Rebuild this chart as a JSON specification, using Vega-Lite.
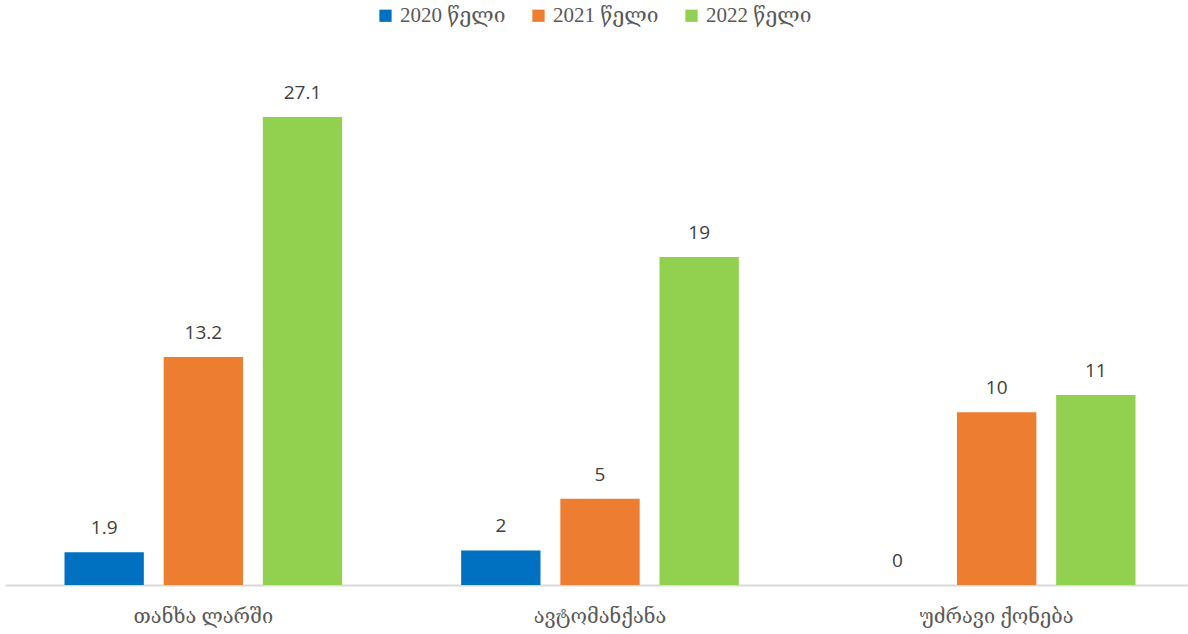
{
  "$schema": "https://vega.github.io/schema/vega-lite/v6.json",
  "width": 1190,
  "height": 518,
  "autosize": {"type": "none"},
  "padding": {"left": 5, "top": 67, "right": 0, "bottom": 49},
  "background": "white",
  "config": {"view": {"stroke": null}},
  "data": {
    "values": [
      {"cat": "თანხა ლარში", "year": "2020 წელი", "v": 1.9},
      {"cat": "თანხა ლარში", "year": "2021 წელი", "v": 13.2},
      {"cat": "თანხა ლარში", "year": "2022 წელი", "v": 27.1},
      {"cat": "ავტომანქანა", "year": "2020 წელი", "v": 2},
      {"cat": "ავტომანქანა", "year": "2021 წელი", "v": 5},
      {"cat": "ავტომანქანა", "year": "2022 წელი", "v": 19},
      {"cat": "უძრავი ქონება", "year": "2020 წელი", "v": 0},
      {"cat": "უძრავი ქონება", "year": "2021 წელი", "v": 10},
      {"cat": "უძრავი ქონება", "year": "2022 წელი", "v": 11}
    ]
  },
  "encoding": {
    "x": {
      "field": "cat", "type": "nominal", "sort": null, "title": null,
      "scale": {"paddingInner": 0, "paddingOuter": 0},
      "axis": {"labelAngle": 0, "labelFont": "Liberation Serif, DejaVu Serif, serif", "labelFontSize": 20, "labelColor": "#595959",
               "ticks": false, "labelPadding": 21, "domainColor": "#D9D9D9", "domainWidth": 2}
    },
    "xOffset": {"field": "year", "type": "nominal", "scale": {"paddingInner": 0.2, "paddingOuter": 0.6}},
    "y": {"field": "v", "type": "quantitative", "scale": {"domain": [0, 30]}, "axis": null}
  },
  "layer": [
    {
      "mark": {"type": "bar"},
      "encoding": {
        "color": {
          "field": "year", "type": "nominal", "title": null,
          "scale": {"range": ["#0070C0", "#ED7D31", "#92D050"]},
          "legend": {"orient": "none", "legendX": 370, "legendY": -62, "direction": "horizontal",
                     "symbolType": "square", "symbolSize": 150, "symbolStrokeWidth": 0,
                     "labelFont": "Liberation Serif, DejaVu Serif, serif", "labelFontSize": 21, "labelColor": "#595959",
                     "columnPadding": 22, "labelOffset": 4}
        }
      }
    },
    {
      "mark": {"type": "text", "dy": -18, "baseline": "alphabetic", "font": "Open Sans", "fontSize": 19, "color": "#404040"},
      "encoding": {"text": {"field": "v", "type": "quantitative"}}
    }
  ]
}
